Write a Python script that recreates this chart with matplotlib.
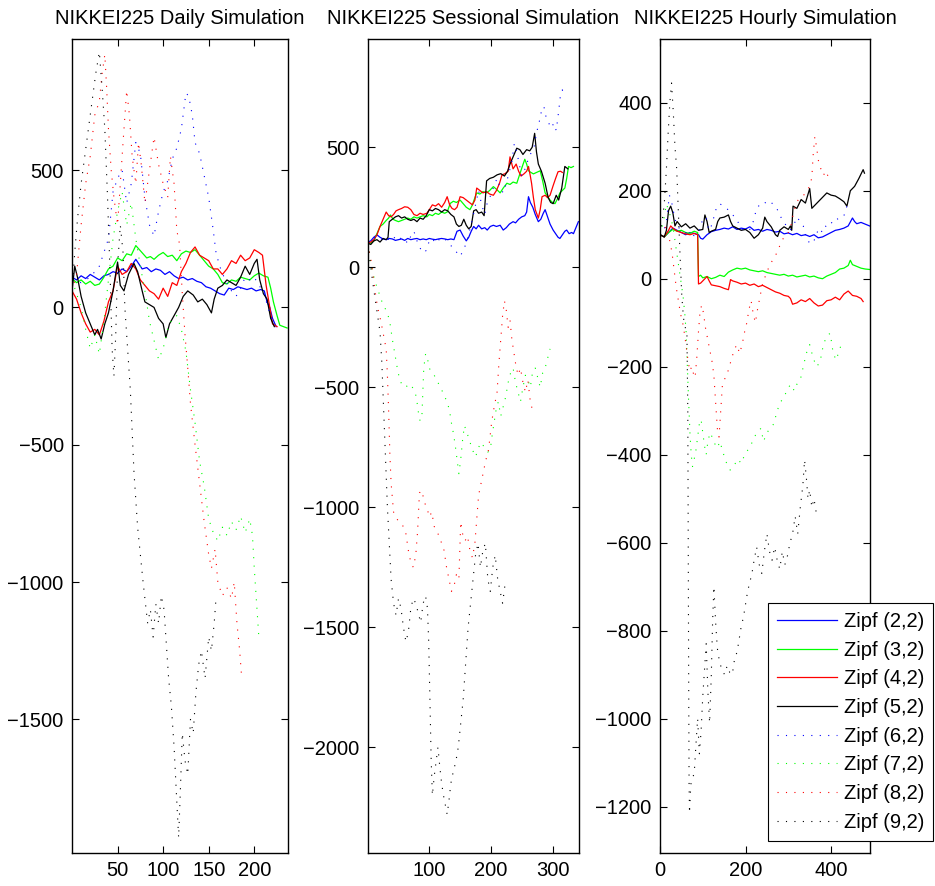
import matplotlib
matplotlib.use('Agg')
import matplotlib.pyplot as plt

plt.rcParams['font.family'] = ['Liberation Sans', 'DejaVu Sans']
plt.rcParams['font.size'] = 14.5

labels = ['Zipf (2,2)', 'Zipf (3,2)', 'Zipf (4,2)', 'Zipf (5,2)',
          'Zipf (6,2)', 'Zipf (7,2)', 'Zipf (8,2)', 'Zipf (9,2)']
titles = ['NIKKEI225 Daily Simulation', 'NIKKEI225 Sessional Simulation',
          'NIKKEI225 Hourly Simulation']

# ---- daily: (step, value) pairs ----
daily_22 = [(0,110),(5,100),(10,115),(15,105),(20,120),(25,110),(30,100),(35,115),(40,120),(45,130),
            (50,125),(55,140),(60,130),(65,150),(70,175),(73,160),(77,140),(82,145),(87,130),(92,140),
            (97,135),(102,120),(107,130),(112,115),(117,105),(122,110),(127,100),(132,105),(137,95),
            (142,90),(147,75),(152,70),(157,60),(162,50),(167,45),(172,70),(177,65),(182,75),(187,70),
            (192,65),(197,70),(202,60),(207,65),(211,60),(214,20),(217,0),(220,-40),(224,-70)]
daily_32 = [(0,105),(5,90),(10,100),(15,85),(20,95),(25,80),(30,85),(35,110),(40,140),(45,150),
            (50,180),(55,170),(60,195),(65,190),(70,225),(74,210),(78,195),(82,180),(86,185),(90,175),
            (95,190),(100,200),(105,185),(110,190),(115,170),(120,195),(125,205),(130,200),(135,210),
            (140,190),(145,170),(150,150),(155,140),(160,120),(165,90),(170,85),(175,100),(180,95),
            (185,110),(190,105),(195,100),(200,115),(205,125),(210,115),(215,110),(218,70),(221,20),
            (225,-30),(228,-65),(232,-70),(236,-75)]
daily_42 = [(0,60),(5,30),(10,-20),(15,-60),(20,-90),(25,-80),(30,-100),(35,-50),(40,20),(45,60),
            (50,150),(55,120),(60,130),(65,160),(70,140),(75,100),(80,80),(85,60),(90,50),(95,30),
            (100,70),(105,40),(110,90),(115,80),(120,130),(125,160),(130,200),(135,220),(140,190),
            (145,180),(150,170),(155,140),(160,140),(165,120),(170,140),(175,170),(180,160),(185,190),
            (190,170),(195,180),(200,210),(205,200),(209,190),(213,80),(217,0),(220,-60),(225,-70)]
daily_52 = [(0,60),(3,150),(6,110),(10,40),(15,-20),(20,-60),(25,-100),(28,-80),(32,-115),(36,-60),
            (40,-20),(45,60),(50,165),(53,80),(57,60),(62,120),(68,160),(72,130),(77,60),(80,20),
            (85,10),(90,0),(95,-40),(100,-60),(103,-110),(107,-60),(112,-30),(117,0),(122,40),(127,60),
            (133,45),(138,20),(143,30),(148,10),(153,-20),(156,30),(160,70),(165,80),(170,100),(175,90),
            (180,80),(185,110),(190,150),(195,120),(200,160),(203,175),(206,100),(210,50),(214,30),
            (218,-40),(222,-70)]
daily_62 = [(0,100),(10,90),(20,110),(30,150),(40,250),(45,420),(50,470),(55,500),(60,380),(65,450),
            (70,600),(75,560),(80,400),(85,300),(90,260),(95,350),(100,420),(105,460),(110,540),
            (115,580),(120,650),(125,780),(128,770),(132,700),(135,600),(140,560),(145,480),(150,400),
            (155,280),(158,200),(162,150),(168,100),(175,60),(180,40),(185,70),(190,110),(195,100),
            (200,110),(205,80),(210,60),(215,0),(220,-50)]
daily_72 = [(0,100),(5,50),(10,0),(15,-80),(20,-150),(25,-100),(30,-170),(35,-50),(40,100),(45,250),
            (50,350),(55,420),(60,300),(65,380),(70,250),(75,150),(80,60),(85,-50),(90,-120),(95,-190),
            (100,-150),(105,-80),(110,-40),(115,-30),(120,-80),(125,-160),(130,-300),(135,-420),
            (140,-560),(145,-650),(150,-770),(155,-820),(160,-850),(165,-800),(170,-830),(175,-780),
            (180,-810),(185,-760),(190,-820),(195,-770),(198,-830),(200,-950),(203,-1100),(205,-1200)]
daily_82 = [(0,60),(5,120),(10,300),(15,450),(20,550),(25,700),(30,750),(33,850),(36,920),(38,800),
            (40,650),(43,500),(46,400),(50,300),(53,450),(56,600),(60,790),(63,700),(66,550),(70,450),
            (73,600),(76,520),(80,380),(85,500),(90,620),(95,520),(100,450),(105,400),(108,550),
            (112,450),(115,280),(118,230),(121,50),(124,-100),(127,-220),(130,-350),(135,-500),
            (140,-640),(145,-780),(150,-900),(153,-950),(157,-880),(160,-1000),(165,-1050),(170,-1020),
            (175,-1060),(178,-1000),(181,-1150),(184,-1250),(186,-1340)]
daily_92 = [(0,60),(3,200),(6,320),(10,450),(14,550),(18,650),(22,750),(26,850),(30,930),(33,800),
            (36,650),(39,400),(42,100),(44,-150),(46,-250),(48,-100),(50,150),(53,300),(56,200),(58,0),
            (60,-100),(62,-200),(64,-300),(66,-450),(68,-600),(70,-700),(72,-800),(75,-900),(78,-1000),
            (80,-1060),(83,-1150),(86,-1100),(89,-1200),(92,-1080),(95,-1150),(98,-1050),(101,-1100),
            (103,-1200),(106,-1350),(109,-1450),(112,-1600),(115,-1800),(117,-1930),(119,-1750),
            (121,-1550),(124,-1650),(127,-1700),(130,-1500),(133,-1550),(136,-1400),(139,-1300),
            (142,-1250),(146,-1350),(150,-1200),(153,-1250),(156,-1150),(158,-1060)]

# ---- sessional ----
sess_22 = [(0,105),(5,110),(10,125),(15,135),(20,125),(25,118),(30,115),(35,120),(40,118),(45,112),
           (50,115),(55,118),(60,112),(65,120),(70,115),(75,118),(80,120),(85,115),(90,118),(95,115),
           (100,120),(105,117),(110,115),(115,118),(120,120),(125,118),(130,115),(135,118),(140,115),
           (145,150),(150,155),(155,130),(160,110),(164,125),(168,150),(172,170),(176,160),(180,175),
           (185,160),(190,165),(194,155),(199,170),(204,175),(209,170),(215,175),(220,155),(225,165),
           (230,180),(236,190),(240,185),(245,200),(250,210),(255,215),(258,230),(261,294),(264,270),
           (268,250),(272,220),(277,190),(281,200),(285,225),(288,240),(292,210),(296,180),(301,155),
           (305,140),(309,125),(312,120),(316,135),(320,150),(323,155),(327,140),(331,145),(334,140),
           (338,165),(342,190)]
sess_32 = [(0,105),(5,100),(10,110),(15,140),(20,170),(25,180),(30,195),(34,205),(37,218),(41,200),
           (45,195),(50,190),(55,195),(60,200),(65,205),(70,200),(75,210),(80,205),(85,210),(90,215),
           (96,210),(100,220),(105,215),(110,225),(115,220),(120,230),(125,225),(129,230),(134,266),
           (139,275),(144,270),(150,280),(155,265),(160,250),(166,240),(170,260),(174,290),(177,310),
           (182,305),(187,315),(193,310),(198,320),(204,336),(209,325),(215,310),(220,330),(226,350),
           (231,345),(236,355),(242,350),(247,389),(251,420),(255,450),(258,430),(261,402),(265,395),
           (269,389),(274,395),(280,402),(284,360),(288,310),(292,295),(296,280),(300,270),(304,265),
           (308,285),(312,310),(316,320),(320,330),(323,370),(326,420),(330,415),(334,420)]
sess_42 = [(0,100),(5,105),(10,115),(15,135),(20,170),(25,200),(30,230),(34,215),(38,210),(42,220),
           (46,235),(50,240),(55,245),(60,252),(65,250),(70,240),(75,220),(80,215),(85,225),(90,220),
           (96,225),(100,240),(105,260),(110,255),(115,265),(120,250),(125,270),(129,294),(133,260),
           (137,245),(141,240),(145,250),(150,294),(155,290),(160,280),(165,270),(170,260),(174,280),
           (177,330),(182,320),(187,310),(193,315),(198,305),(204,300),(209,320),(214,350),(218,385),
           (223,390),(228,400),(231,460),(236,410),(241,430),(245,400),(249,380),(254,390),(258,400),
           (261,420),(264,380),(266,350),(269,290),(272,240),(277,205),(280,240),(283,294),(288,300),
           (292,290),(296,300),(301,340),(305,370),(309,398),(313,400),(316,395)]
sess_52 = [(0,100),(5,95),(10,110),(15,115),(20,105),(25,120),(30,115),(33,125),(35,190),(40,200),
           (45,210),(50,215),(55,205),(60,210),(65,200),(70,195),(75,200),(80,190),(85,205),(90,200),
           (95,215),(100,240),(105,235),(110,245),(115,240),(120,230),(125,240),(130,235),(135,220),
           (140,210),(144,180),(148,170),(152,175),(156,200),(160,175),(164,160),(168,170),(172,235),
           (176,240),(180,225),(185,230),(189,215),(193,360),(198,370),(204,375),(210,385),(216,390),
           (222,380),(227,400),(231,430),(236,460),(242,496),(247,490),(252,470),(258,490),(263,485),
           (267,500),(271,558),(274,480),(277,430),(282,400),(288,350),(293,290),(297,270),(301,265),
           (306,300),(310,280),(315,330),(320,420),(325,410)]
sess_62 = [(0,100),(5,110),(10,120),(15,130),(20,125),(25,110),(30,120),(35,115),(40,130),(45,120),
           (50,110),(55,125),(60,115),(65,100),(70,130),(75,150),(80,110),(85,80),(90,60),(95,70),
           (100,110),(105,120),(110,100),(115,115),(120,110),(125,120),(130,100),(135,90),(140,80),
           (145,60),(150,45),(155,70),(160,100),(165,150),(170,200),(175,260),(180,320),(185,260),
           (190,220),(195,280),(200,300),(205,340),(210,370),(215,330),(220,310),(225,350),(230,400),
           (234,440),(238,516),(242,480),(246,430),(250,380),(254,400),(258,430),(262,460),(266,480),
           (270,500),(274,560),(278,600),(282,650),(286,670),(290,620),(294,600),(298,580),(302,600),
           (306,570),(310,650),(313,720),(316,739),(319,711)]
sess_72 = [(0,100),(4,30),(8,-20),(12,-60),(16,-90),(20,-120),(24,-150),(28,-170),(32,-190),(36,-230),
           (40,-300),(44,-360),(48,-420),(52,-470),(56,-490),(60,-485),(65,-500),(70,-490),(75,-510),
           (79,-540),(82,-600),(85,-640),(88,-620),(91,-420),(94,-360),(97,-380),(100,-420),(104,-440),
           (108,-450),(112,-470),(116,-490),(120,-510),(125,-540),(129,-560),(133,-600),(136,-650),
           (139,-690),(142,-740),(145,-800),(148,-860),(151,-800),(154,-720),(157,-660),(160,-680),
           (165,-720),(170,-760),(175,-790),(179,-760),(183,-730),(187,-740),(191,-760),(195,-770),
           (199,-760),(202,-700),(205,-650),(208,-600),(212,-560),(216,-620),(220,-580),(224,-540),
           (228,-480),(232,-440),(236,-420),(240,-480),(244,-520),(248,-560),(252,-500),(256,-450),
           (260,-470),(264,-500),(268,-430),(272,-420),(276,-460),(280,-500),(284,-440),(288,-420),
           (292,-380),(296,-340)]
sess_82 = [(0,100),(3,60),(6,20),(9,-40),(12,-100),(15,-150),(18,-190),(21,-220),(24,-260),(27,-300),
           (30,-340),(32,-450),(34,-600),(36,-780),(38,-900),(40,-960),(42,-1020),(46,-1040),(50,-1060),
           (54,-1070),(58,-1080),(62,-1110),(66,-1180),(70,-1230),(74,-1250),(78,-1200),(81,-1100),
           (84,-940),(88,-930),(92,-980),(96,-1000),(100,-1040),(104,-1020),(108,-1080),(112,-1100),
           (116,-1120),(120,-1150),(124,-1180),(128,-1250),(132,-1300),(136,-1350),(140,-1330),
           (144,-1280),(148,-1300),(151,-1060),(154,-1110),(158,-1140),(162,-1120),(166,-1180),
           (170,-1210),(174,-1150),(177,-1050),(180,-950),(184,-900),(188,-850),(192,-800),(195,-780),
           (198,-720),(201,-650),(204,-600),(207,-560),(210,-520),(213,-400),(216,-300),(219,-200),
           (222,-140),(225,-180),(228,-250),(231,-220),(234,-300),(237,-350),(240,-400),(244,-450),
           (248,-420),(252,-480),(256,-520),(260,-470),(264,-560),(268,-600)]
sess_92 = [(0,100),(4,20),(8,-60),(12,-130),(16,-200),(20,-270),(23,-400),(26,-600),(29,-800),
           (32,-1000),(35,-1150),(38,-1300),(42,-1400),(46,-1450),(50,-1380),(54,-1420),(58,-1500),
           (62,-1560),(66,-1520),(70,-1420),(74,-1380),(78,-1400),(82,-1440),(86,-1480),(90,-1400),
           (94,-1370),(97,-1420),(99,-1560),(101,-1800),(103,-2050),(105,-2200),(108,-2120),
           (111,-2060),(114,-2000),(117,-2080),(120,-2150),(123,-2200),(126,-2240),(129,-2280),
           (132,-2220),(135,-2150),(139,-2100),(143,-2060),(147,-2000),(151,-1900),(155,-1800),
           (159,-1650),(163,-1500),(167,-1400),(171,-1300),(175,-1200),(179,-1150),(183,-1250),
           (187,-1180),(191,-1150),(195,-1300),(199,-1350),(203,-1250),(207,-1200),(211,-1300),
           (215,-1350),(219,-1400),(223,-1320)]

# ---- hourly ----
hour_22 = [(0,100),(10,95),(20,105),(30,115),(40,110),(50,105),(60,100),(70,105),(80,103),(90,100),
           (95,92),(100,90),(110,100),(120,107),(130,110),(140,112),(150,115),(160,113),(170,118),
           (180,112),(190,115),(200,113),(210,118),(220,110),(230,112),(240,108),(250,112),(260,110),
           (270,106),(280,108),(290,102),(300,104),(310,100),(320,103),(330,98),(340,100),(350,96),
           (360,100),(370,93),(380,95),(390,100),(400,105),(410,110),(420,112),(430,115),(440,120),
           (450,138),(455,130),(460,125),(470,128),(480,124),(490,120)]
hour_32 = [(0,100),(10,95),(20,105),(30,112),(40,108),(50,110),(60,105),(70,103),(80,108),(88,105),
           (90,5),(95,8),(100,2),(110,5),(120,0),(130,3),(140,8),(150,5),(160,15),(170,20),(180,24),
           (190,22),(200,24),(210,20),(220,18),(230,16),(240,18),(250,14),(260,12),(270,10),(280,8),
           (290,10),(300,6),(310,8),(320,4),(330,6),(340,8),(350,4),(360,6),(370,2),(380,0),(390,6),
           (400,10),(410,14),(420,22),(430,24),(440,30),(445,42),(450,32),(460,28),(470,24),(480,22),
           (490,21)]
hour_42 = [(0,100),(10,95),(20,110),(25,120),(30,115),(40,108),(50,105),(60,102),(70,100),(80,103),
           (88,100),(90,-12),(95,-10),(100,-5),(110,5),(115,-5),(120,-14),(130,-16),(140,-18),
           (150,-22),(160,-25),(165,-2),(170,-5),(180,-8),(190,-12),(200,-10),(210,-15),(220,-12),
           (230,-18),(240,-15),(250,-20),(260,-25),(270,-30),(280,-33),(290,-38),(300,-40),(305,-45),
           (310,-58),(320,-55),(330,-48),(340,-52),(350,-45),(360,-55),(370,-62),(380,-60),(390,-50),
           (400,-48),(410,-42),(420,-48),(430,-35),(440,-28),(450,-38),(460,-40),(470,-45),(475,-52)]
hour_52 = [(0,100),(10,95),(15,110),(20,155),(25,165),(30,150),(35,120),(40,130),(50,118),(60,125),
           (70,115),(80,120),(90,110),(100,112),(105,145),(110,130),(115,105),(120,108),(130,112),
           (135,130),(140,138),(150,140),(160,145),(165,130),(170,120),(180,115),(190,110),(200,112),
           (210,105),(220,92),(230,100),(240,115),(245,140),(250,130),(260,118),(270,100),(275,96),
           (280,110),(290,118),(300,112),(305,120),(308,110),(311,165),(320,160),(330,180),(340,172),
           (350,205),(355,160),(360,165),(370,175),(380,185),(390,195),(400,190),(410,188),(420,182),
           (430,175),(437,165),(445,200),(455,210),(465,228),(475,248),(478,240)]
hour_62 = [(0,100),(8,105),(15,130),(22,190),(28,170),(34,140),(40,120),(50,110),(60,105),(70,100),
           (80,98),(90,105),(100,135),(108,140),(114,110),(120,120),(126,140),(133,165),(140,170),
           (150,165),(156,160),(165,150),(175,140),(182,130),(188,115),(195,110),(202,108),(210,112),
           (218,130),(226,160),(235,170),(243,175),(250,170),(258,175),(266,168),(273,160),(280,145),
           (288,130),(296,120),(304,110),(312,120),(320,140),(328,130),(335,120),(343,88),(350,82),
           (358,80),(365,100),(372,115),(380,105),(388,120),(397,130),(405,125),(413,135),(421,138),
           (429,140),(437,165),(444,170)]
hour_72 = [(0,100),(8,130),(15,170),(22,150),(30,120),(36,80),(42,40),(48,0),(54,-40),(58,-80),
           (61,-120),(64,-200),(67,-280),(70,-350),(73,-400),(76,-427),(80,-410),(84,-390),(88,-360),
           (92,-330),(96,-320),(100,-350),(104,-380),(108,-400),(112,-370),(117,-350),(122,-360),
           (128,-375),(134,-385),(140,-370),(146,-390),(152,-410),(158,-425),(164,-435),(170,-430),
           (176,-420),(182,-410),(190,-420),(198,-400),(205,-390),(212,-380),(220,-360),(228,-350),
           (236,-340),(242,-370),(250,-350),(258,-340),(266,-330),(274,-300),(282,-280),(290,-270),
           (298,-250),(306,-240),(314,-255),(320,-240),(328,-230),(335,-200),(342,-170),(350,-150),
           (358,-180),(366,-200),(374,-190),(382,-150),(390,-130),(398,-124),(405,-170),(412,-185),
           (420,-160),(428,-140)]
hour_82 = [(0,100),(8,110),(15,120),(22,90),(28,60),(33,20),(38,-20),(43,-50),(48,-80),(53,-100),
           (58,-130),(62,-160),(66,-190),(70,-210),(74,-200),(78,-215),(82,-225),(86,-180),(90,-120),
           (94,-70),(98,-60),(102,-80),(106,-110),(110,-130),(114,-150),(118,-170),(122,-190),
           (126,-220),(130,-280),(134,-340),(138,-360),(142,-300),(146,-240),(150,-230),(156,-220),
           (162,-200),(168,-180),(174,-160),(180,-150),(186,-170),(192,-150),(198,-120),(203,-100),
           (208,-70),(213,-50),(218,-80),(223,-100),(228,-70),(234,-40),(240,-10),(248,10),(256,30),
           (265,45),(274,60),(282,80),(290,95),(298,100),(306,120),(312,150),(320,175),(328,185),
           (336,190),(343,200),(350,210),(355,230),(358,280),(362,323),(366,300),(370,270),(376,250),
           (382,235),(388,245),(394,230),(397,225)]
hour_92 = [(0,100),(5,130),(10,170),(15,250),(19,330),(23,400),(27,445),(31,380),(35,300),(39,250),
           (43,150),(47,50),(51,-40),(55,-90),(59,-110),(63,-130),(65,-300),(66,-600),(67,-900),
           (68,-1150),(69,-1215),(72,-1150),(76,-1135),(80,-1125),(84,-1060),(88,-1000),(92,-1080),
           (96,-1030),(100,-950),(104,-890),(108,-830),(112,-940),(116,-1010),(120,-900),(123,-780),
           (126,-700),(130,-780),(134,-840),(139,-870),(145,-890),(151,-900),(157,-880),(163,-895),
           (169,-900),(175,-860),(180,-850),(185,-820),(190,-790),(195,-770),(200,-740),(205,-710),
           (210,-690),(215,-670),(220,-640),(226,-610),(232,-650),(238,-670),(244,-620),(250,-580),
           (256,-620),(262,-640),(268,-610),(274,-640),(280,-660),(286,-620),(292,-650),(298,-630),
           (304,-600),(310,-580),(316,-540),(322,-580),(328,-520),(334,-470),(338,-412),(342,-450),
           (346,-500),(350,-480),(355,-520),(360,-500),(365,-530)]

panels = [
    [daily_22, daily_32, daily_42, daily_52, daily_62, daily_72, daily_82, daily_92],
    [sess_22, sess_32, sess_42, sess_52, sess_62, sess_72, sess_82, sess_92],
    [hour_22, hour_32, hour_42, hour_52, hour_62, hour_72, hour_82, hour_92],
]
# matlab style pure colours
colors = ['#0000ff', '#00ff00', '#ff0000', '#000000', '#0000ff', '#00ff00', '#ff0000', '#000000']
xlims = [(0, 237), (0, 343), (0, 491)]
ylims = [(-1985, 977), (-2439, 951), (-1305, 545)]
xticks = [[50, 100, 150, 200], [100, 200, 300], [0, 200, 400]]
yticks = [[-1500, -1000, -500, 0, 500], [-2000, -1500, -1000, -500, 0, 500],
          [-1200, -1000, -800, -600, -400, -200, 0, 200, 400]]

# axes boxes in pixels (left, right), figure 935x886
boxes = [(72, 288), (367.7, 579), (660, 870)]
W, H = 935, 886
top_px, bot_px = 39, 852.7

fig = plt.figure(figsize=(W / 100, H / 100), dpi=100)
handles = []
for i in range(3):
    l, r = boxes[i]
    ax = fig.add_axes([l / W, 1 - bot_px / H, (r - l) / W, (bot_px - top_px) / H])
    for j, series in enumerate(panels[i]):
        xs = [p[0] for p in series]
        ys = [p[1] for p in series]
        if j < 4:
            h, = ax.plot(xs, ys, color=colors[j], lw=0.9)
        else:
            h, = ax.plot(xs, ys, color=colors[j], lw=0.8, linestyle=(0, (1, 6.6)))
        if i == 2:
            handles.append(h)
    ax.set_xlim(*xlims[i])
    ax.set_ylim(*ylims[i])
    ax.set_xticks(xticks[i])
    ax.set_yticks(yticks[i])
    ax.tick_params(direction='in', top=True, right=True, length=5, width=0.8, labelsize=14.5)
    ax.tick_params(axis='y', pad=6)
    ax.tick_params(axis='x', pad=6)
    for s in ax.spines.values():
        s.set_linewidth(1.0)
    ax.set_title(titles[i], fontsize=14.5, pad=11)

leg = fig.legend(handles, labels, loc='upper left', bbox_to_anchor=(768 / W, 1 - 603 / H),
                 bbox_transform=fig.transFigure, borderaxespad=0, fontsize=14.5,
                 handlelength=3.0, handletextpad=0.3, labelspacing=0.48,
                 fancybox=False, framealpha=1, edgecolor='k', borderpad=0.45)
leg.get_frame().set_linewidth(0.8)

fig.savefig('out.png', dpi=100)
